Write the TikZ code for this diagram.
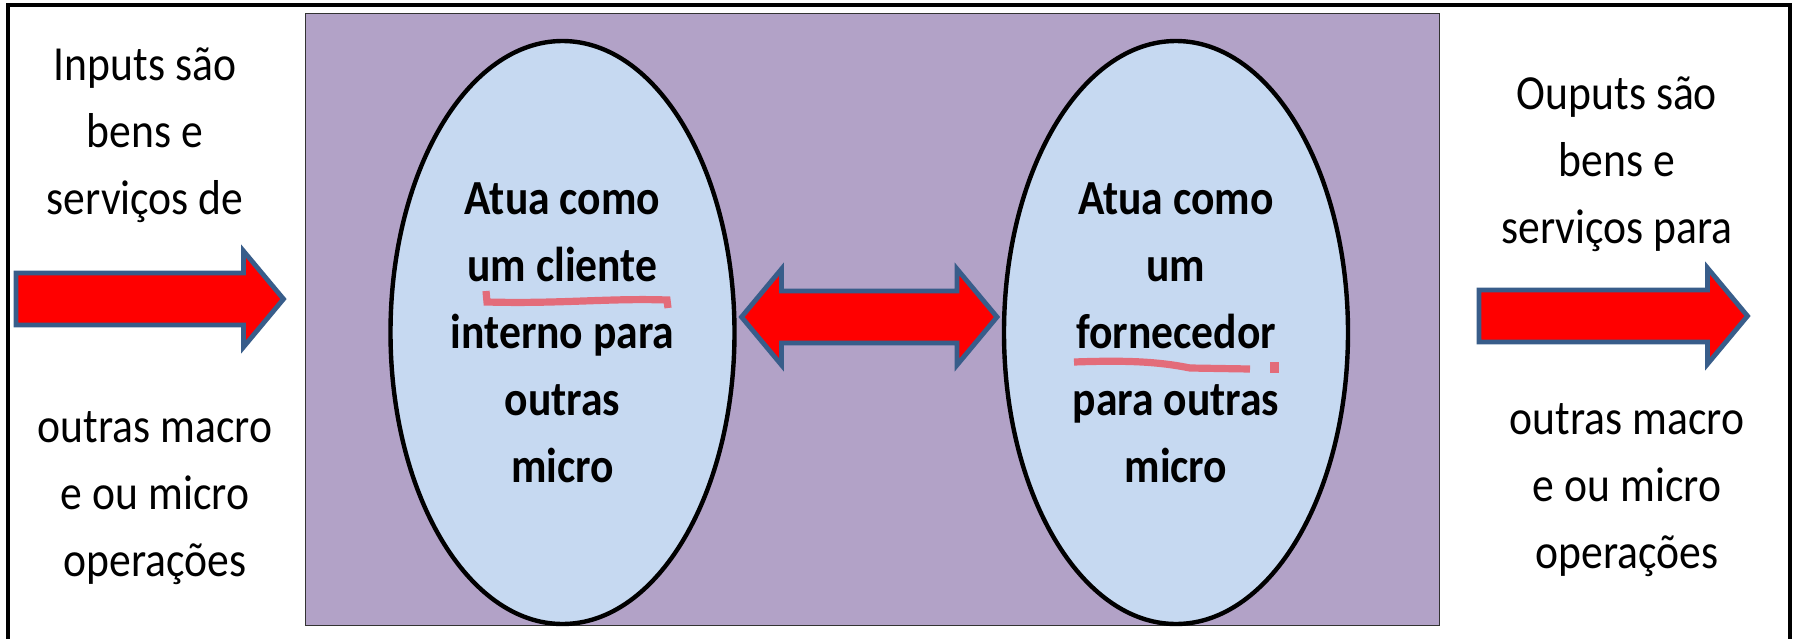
\documentclass[tikz,border=0pt]{standalone}
\usepackage{fontspec}
\setmainfont{Carlito}[FakeStretch=0.89]
\usetikzlibrary{shapes.geometric,calc}
\definecolor{panelfill}{RGB}{178,162,199}
\definecolor{bubblefill}{RGB}{198,217,241}
\definecolor{arrowline}{RGB}{56,93,138}
\definecolor{spellred}{RGB}{227,108,122}
\tikzset{
    note/.style = {align=center, inner sep=0pt,
        font=\fontsize{24.5}{33.5}\selectfont},
    bubble/.style = {draw, ellipse, line width=2.2pt, fill=bubblefill,
        minimum width=172pt, minimum height=291.5pt,
        inner sep=0pt, outer sep=0pt, align=center,
        font=\fontsize{24.5}{33.5}\selectfont\bfseries},
    fatarrow/.style = {draw=arrowline, fill=red, line width=2.4pt},
    spell/.style = {draw=spellred, line width=3.6pt}
}
\def\rarrow#1{%
    -- ++(0,-26) -- ++(#1,0) -- ++(0,-22) -- ++(40,48) -- ++(-40,48) -- ++(0,-22) -- ++(-#1,0) -- cycle
}

\begin{document}
\begin{tikzpicture}[x=0.5pt, y=-0.5pt]
    \useasboundingbox (0,0) rectangle (1796,638);
    \draw [line width=2pt] (8,650) -- (8,5) -- (1790,5) -- (1790,650);
    \draw [fill=panelfill, draw=black!80, line width=0.5pt] (305,13) rectangle (1439,625);
    \node [note] (inp) at (145,135.5) {Inputs são\\bens e\\serviços de};
    \node [note] (inpb) at (155,498) {outras macro\\e ou micro\\operações};
    \node [note] (outp) at (1617,164) {Ouputs são\\bens e\\serviços para};
    \node [note] (outpb) at (1627,490) {outras macro\\e ou micro\\operações};
    \draw [fatarrow] (16,299) \rarrow{227.5};
    \draw [fatarrow] (1479,316) \rarrow{228.5};
    \node [bubble] (cli) at (562.5,332.5) {Atua como\\um cliente\\interno para\\outras\\micro};
    \node [bubble, right of=cli, node distance=306.75pt] (forn) {Atua como\\um\\fornecedor\\para outras\\micro};
    \coordinate (dl) at ($(cli.east)+(7,-15.5)$);
    \coordinate (dr) at ($(forn.west)+(-7,-15.5)$);
    \draw [fatarrow] (dl) -- ++(40,-48) -- ++(0,22) -- ($(dr)+(-40,-26)$) -- ++(0,-22) -- (dr) -- ++(-40,48) -- ++(0,-22) -- ($(dl)+(40,26)$) -- ++(0,22) -- cycle;
    \draw [spell] (486,291) -- (487,302) .. controls (560,304) and (610,298) .. (667,300) -- (668,308);
    \draw [spell] (1074,362) .. controls (1130,360) and (1160,362) .. (1190,368) -- (1250,369);
    \fill [spellred] (1270,362) rectangle (1279,373);
\end{tikzpicture}
\end{document}
